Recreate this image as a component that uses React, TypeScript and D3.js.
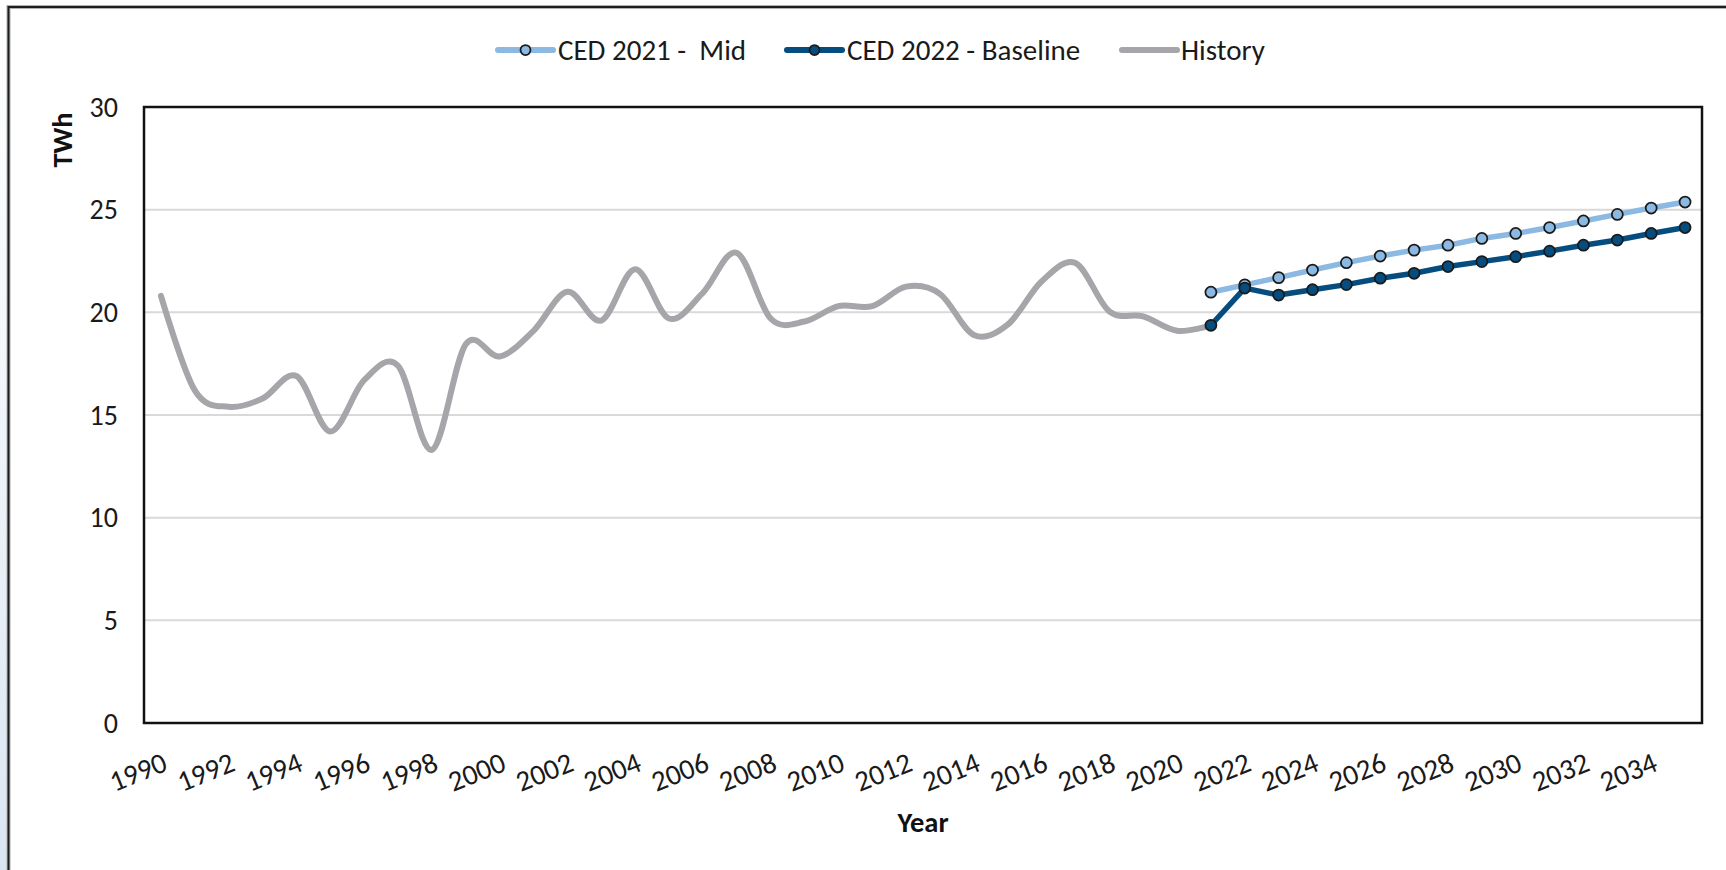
import React from 'react';
import * as d3 from 'd3';

const years = [1990, 1991, 1992, 1993, 1994, 1995, 1996, 1997, 1998, 1999, 2000, 2001, 2002, 2003, 2004, 2005, 2006, 2007, 2008, 2009, 2010, 2011, 2012, 2013, 2014, 2015, 2016, 2017, 2018, 2019, 2020, 2021, 2022, 2023, 2024, 2025, 2026, 2027, 2028, 2029, 2030, 2031, 2032, 2033, 2034, 2035];
const tickYears = [1990, 1992, 1994, 1996, 1998, 2000, 2002, 2004, 2006, 2008, 2010, 2012, 2014, 2016, 2018, 2020, 2022, 2024, 2026, 2028, 2030, 2032, 2034];
const yTicks = [0, 5, 10, 15, 20, 25, 30];

const historyYears = [1990, 1991, 1992, 1993, 1994, 1995, 1996, 1997, 1998, 1999, 2000, 2001, 2002, 2003, 2004, 2005, 2006, 2007, 2008, 2009, 2010, 2011, 2012, 2013, 2014, 2015, 2016, 2017, 2018, 2019, 2020, 2021];
const historyValues = [20.8, 16.2, 15.4, 15.8, 16.9, 14.2, 16.7, 17.4, 13.3, 18.45, 17.85, 19.1, 21.0, 19.6, 22.1, 19.7, 20.95, 22.9, 19.7, 19.55, 20.3, 20.3, 21.25, 20.9, 18.9, 19.4, 21.5, 22.4, 20.05, 19.8, 19.1, 19.37];

const forecastYears = [2021, 2022, 2023, 2024, 2025, 2026, 2027, 2028, 2029, 2030, 2031, 2032, 2033, 2034, 2035];
const ced2021Mid = [20.98, 21.34, 21.69, 22.06, 22.42, 22.74, 23.03, 23.27, 23.6, 23.84, 24.13, 24.45, 24.77, 25.08, 25.37];
const ced2022Baseline = [19.37, 21.18, 20.84, 21.1, 21.35, 21.66, 21.9, 22.23, 22.47, 22.71, 22.98, 23.27, 23.52, 23.84, 24.13];

const legendLabels = ['CED 2021 -  Mid', 'CED 2022 - Baseline', 'History'];

const FONT = 'Carlito, Calibri, Lato, sans-serif';
const LIGHT = '#8cb9e2';
const DARK = '#064d7f';
const GRAY = '#a6a6aa';

export default function App() {
  const W = 1726;
  const H = 870;
  const plot = { left: 144, top: 107, right: 1702, bottom: 723 };

  const x = d3.scaleBand<number>().domain(years).range([plot.left, plot.right]);
  const cx = (yr: number) => (x(yr) as number) + x.bandwidth() / 2;
  const y = d3.scaleLinear().domain([0, 30]).range([plot.bottom, plot.top]);

  const histPath = d3
    .line<number>()
    .x((_, i) => cx(historyYears[i]))
    .y((d) => y(d))
    .curve(d3.curveCardinal.tension(0))(historyValues) as string;

  const fcLine = d3
    .line<number>()
    .x((_, i) => cx(forecastYears[i]))
    .y((d) => y(d));

  const legendItems = [
    { label: legendLabels[0], color: LIGHT, marker: true, x0: 498, x1: 553, tx: 558 },
    { label: legendLabels[1], color: DARK, marker: true, x0: 787, x1: 842, tx: 847 },
    { label: legendLabels[2], color: GRAY, marker: false, x0: 1122, x1: 1177, tx: 1181 },
  ];
  const legendY = 50;

  return (
    <div style={{ position: 'fixed', left: 0, top: 0, width: W, height: H, background: '#fff' }}>
      <svg width={W} height={H} style={{ display: 'block' }}>
        <defs>
          <linearGradient id="strip" x1="0" y1="0" x2="0" y2="1">
            <stop offset="0" stopColor="#ffffff" />
            <stop offset="0.4" stopColor="#f3f7fb" />
            <stop offset="1" stopColor="#d9e6f2" />
          </linearGradient>
        </defs>
        <rect x={0} y={0} width={W} height={H} fill="#fff" />
        <rect x={0} y={0} width={7} height={H} fill="url(#strip)" />
        {/* outer frame */}
        <rect x={8.5} y={7} width={W + 20} height={H + 20} fill="none" stroke="#b0b0b0" strokeWidth={4} />
        <rect x={8.5} y={7} width={W + 20} height={H + 20} fill="none" stroke="#1e1e1e" strokeWidth={2} />

        {/* gridlines */}
        {yTicks.filter((t) => t > 0 && t < 30).map((t) => (
          <line key={t} x1={plot.left} x2={plot.right} y1={y(t)} y2={y(t)} stroke="#d9d9d9" strokeWidth={2} />
        ))}

        {/* y tick labels */}
        {yTicks.map((t) => (
          <text key={t} x={118} y={y(t)} dy="0.35em" textAnchor="end" fontFamily={FONT} fontSize={28} fill="#1a1a1a">
            {t}
          </text>
        ))}

        {/* x tick labels */}
        {tickYears.map((yr) => (
          <text
            key={yr}
            transform={`translate(${cx(yr) + 8},${770}) rotate(-22)`}
            textAnchor="end"
            fontFamily={FONT}
            fontSize={29}
            fill="#1a1a1a"
          >
            {yr}
          </text>
        ))}

        {/* axis titles */}
        <text transform={`translate(72,140) rotate(-90)`} textAnchor="middle" fontFamily={FONT} fontSize={28.5} fontWeight="bold" fill="#111">
          TWh
        </text>
        <text x={(plot.left + plot.right) / 2} y={832} textAnchor="middle" fontFamily={FONT} fontSize={28.5} fontWeight="bold" fill="#111">
          Year
        </text>

        {/* series */}
        <path d={histPath} fill="none" stroke={GRAY} strokeWidth={6} strokeLinejoin="round" strokeLinecap="round" />
        <path d={fcLine(ced2021Mid) as string} fill="none" stroke={LIGHT} strokeWidth={5.5} strokeLinejoin="round" />
        {ced2021Mid.map((v, i) => (
          <circle key={'m' + i} cx={cx(forecastYears[i])} cy={y(v)} r={5.5} fill={LIGHT} stroke="#1a1a1a" strokeWidth={1.75} />
        ))}
        <path d={fcLine(ced2022Baseline) as string} fill="none" stroke={DARK} strokeWidth={5.5} strokeLinejoin="round" />
        {ced2022Baseline.map((v, i) => (
          <circle key={'b' + i} cx={cx(forecastYears[i])} cy={y(v)} r={5.5} fill={DARK} stroke="#1a1a1a" strokeWidth={1.75} />
        ))}

        {/* plot border */}
        <rect x={plot.left} y={plot.top} width={plot.right - plot.left} height={plot.bottom - plot.top} fill="none" stroke="#111" strokeWidth={2.5} />

        {/* legend */}
        {legendItems.map((it) => (
          <g key={it.label}>
            <line x1={it.x0} x2={it.x1} y1={legendY} y2={legendY} stroke={it.color} strokeWidth={6} strokeLinecap="round" />
            {it.marker && (
              <circle cx={(it.x0 + it.x1) / 2} cy={legendY} r={5} fill={it.color} stroke="#1a1a1a" strokeWidth={1.75} />
            )}
            <text x={it.tx} y={legendY} dy="0.35em" fontFamily={FONT} fontSize={29} fill="#1a1a1a" style={{ whiteSpace: 'pre' }}>
              {it.label}
            </text>
          </g>
        ))}
      </svg>
    </div>
  );
}
